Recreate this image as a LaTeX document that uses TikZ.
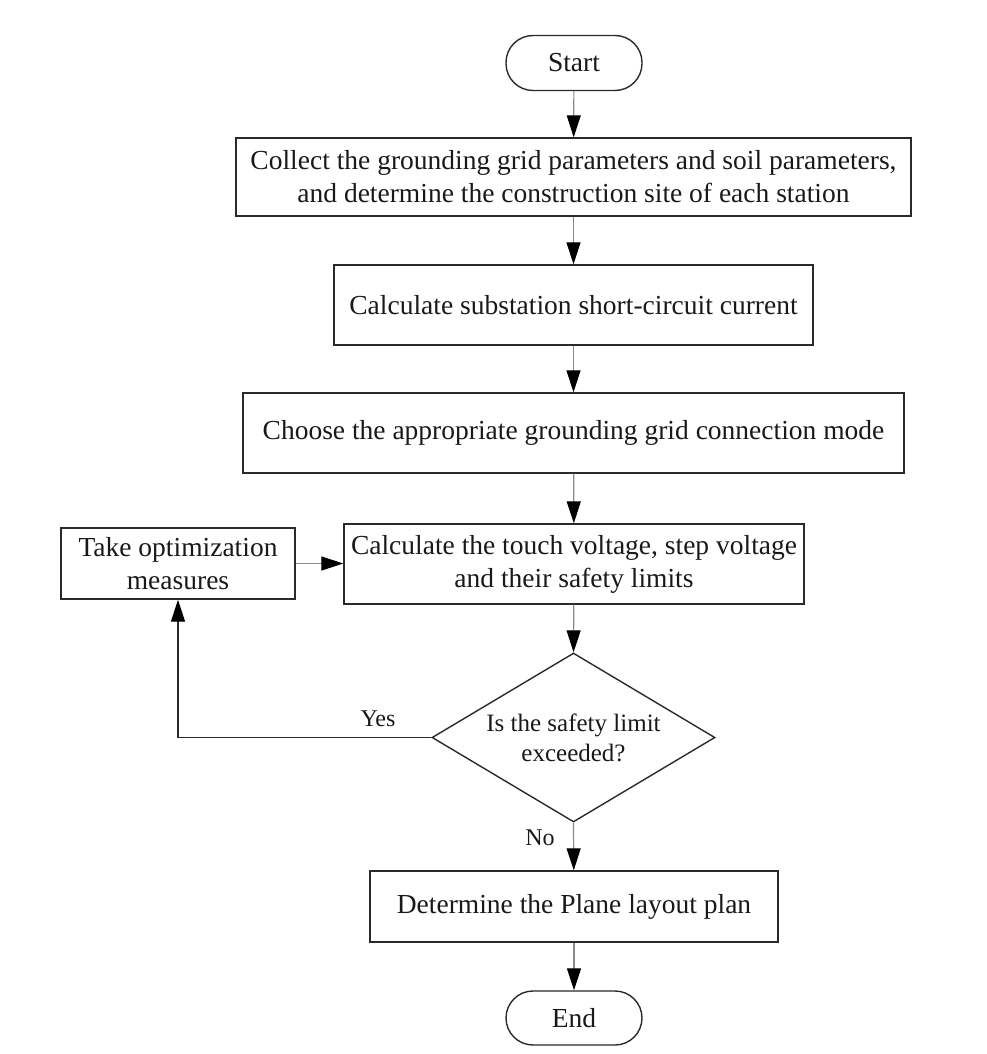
\documentclass[tikz,border=0pt]{standalone}
\usepackage{fontspec}
\setmainfont{Liberation Serif}
\usetikzlibrary{arrows.meta,shapes.geometric}
\definecolor{boxline}{HTML}{2A2A2A}
\definecolor{arrline}{HTML}{8A8A8A}
\begin{document}
\begin{tikzpicture}[x=1pt,y=-1pt,
  every node/.style={font=\fontsize{27.5}{33}\selectfont, text=black!90},
  procbox/.style={draw=boxline, line width=1.4pt, rectangle, inner sep=0pt, align=center},
  termbox/.style={draw=boxline, line width=1.4pt, rectangle, rounded corners=27pt, inner sep=0pt, minimum width=136pt, minimum height=55pt},
  decbox/.style={draw=boxline, line width=1.4pt, diamond, inner sep=0pt, minimum width=283pt, minimum height=169pt},
  flow/.style={draw=arrline, line width=1.2pt, -{Triangle[length=22pt,width=14pt,color=black]}},
  loopflow/.style={draw=boxline, line width=1.4pt, -{Triangle[length=22pt,width=14pt,color=black]}},
  lbl/.style={inner sep=0pt, align=center},
  small/.style={font=\fontsize{25}{30}\selectfont},
  tiny/.style={font=\fontsize{24}{29}\selectfont}
]
\useasboundingbox (0,0) rectangle (987,1054);
\node[termbox] (start) at (574,63) {Start};
\node[procbox, minimum width=675pt, minimum height=78pt] (b1) at (573.5,177)
  {Collect the grounding grid parameters and soil parameters,\\ and determine the construction site of each station};
\node[procbox, minimum width=479pt, minimum height=80pt] (b2) at (573.5,305)
  {Calculate substation short-circuit current};
\node[procbox, minimum width=661pt, minimum height=80pt] (b3) at (573.5,433)
  {Choose the appropriate grounding grid connection mode};
\node[procbox, minimum width=460pt, minimum height=80pt] (b4) at (574,564)
  {Calculate the touch voltage, step voltage\\ and their safety limits};
\node[procbox, minimum width=234pt, minimum height=71pt] (opt) at (178,563.5)
  {Take optimization\\ measures};
\node[decbox] (dec) at (573.5,737.5) {};
\node[lbl, small] (dectext) at (dec.center) {Is the safety limit\\ exceeded?};
\node[procbox, minimum width=408pt, minimum height=71pt] (b5) at (574,906.5)
  {Determine the Plane layout plan};
\node[termbox, minimum height=54pt] (end) at (574,1018) {End};

\draw[flow] (start) -- (b1);
\draw[flow] (b1) -- (b2);
\draw[flow] (b2) -- (b3);
\draw[flow] (b3) -- (b4);
\draw[flow] (opt.east) -- (b4.west |- opt.east);
\draw[flow] (b4) -- (dec.north);
\draw[loopflow] (dec.west) -| (opt.south);
\draw[flow] (dec.south) -- (b5);
\draw[flow] (b5) -- (end);
\node[lbl, tiny] (yes) at (378,719) {Yes};
\node[lbl, tiny] (no) at (540,838) {No};
\end{tikzpicture}
\end{document}
